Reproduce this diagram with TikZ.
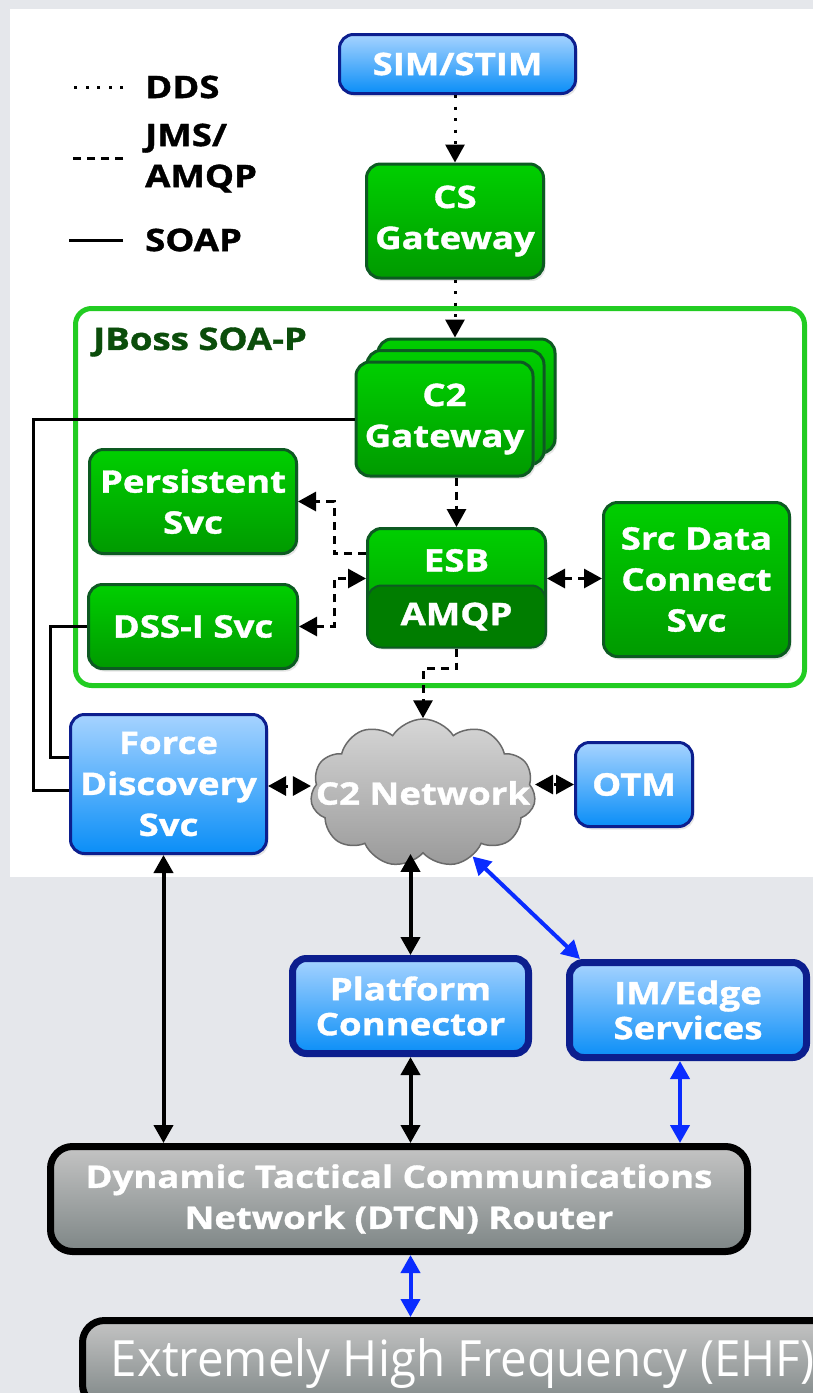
\documentclass[tikz,border=0pt]{standalone}
\usepackage{fontspec}
\setmainfont{Open Sans}[BoldFeatures={FakeStretch=1.18,FakeBold=1.2}]
\newfontfamily\ehffont{Open Sans}[FakeStretch=0.95]
\usetikzlibrary{arrows.meta,shapes.symbols,shadows}
\definecolor{bluetop}{HTML}{A6D3FF}
\definecolor{bluebot}{HTML}{0A8EF7}
\definecolor{navy}{HTML}{0C1E8E}
\definecolor{greentop}{HTML}{00CF00}
\definecolor{greenbot}{HTML}{009A00}
\definecolor{greenline}{HTML}{0D5A22}
\definecolor{amqpgreen}{HTML}{007D00}
\definecolor{soagreen}{HTML}{22CC22}
\definecolor{soatext}{HTML}{0B4D0B}
\definecolor{graytop}{HTML}{C4C4C4}
\definecolor{graybot}{HTML}{7E8686}
\definecolor{cloudtop}{HTML}{D6D6D6}
\definecolor{cloudbot}{HTML}{9A9A9A}
\definecolor{cloudline}{HTML}{6A6A6A}
\definecolor{linkblue}{HTML}{0A2CFF}
\definecolor{backgray}{HTML}{E5E7EB}

\begin{document}
\begin{tikzpicture}[x=1pt, y=-1pt, >={Triangle[length=18pt,width=19pt]},
    every node/.style={font=\bfseries\fontsize{31}{41}\selectfont, text=white, align=center, inner sep=0pt},
    wh/.style 2 args={minimum width=#1pt, minimum height=#2pt},
    shade/.style={drop shadow={opacity=0.2, shadow xshift=2pt, shadow yshift=-3pt}},
    bluebox/.style={draw=navy, line width=3pt, rounded corners=14pt, top color=bluetop, bottom color=bluebot, shade},
    greenbox/.style={draw=greenline, line width=3pt, rounded corners=14pt, top color=greentop, bottom color=greenbot, shade},
    graybox/.style={draw=black, line width=7pt, rounded corners=22pt, top color=graytop, bottom color=graybot, shade},
    legend/.style={text=black, anchor=west, align=left},
    ddsline/.style={line width=3pt, dash pattern=on 3pt off 8.5pt},
    jmsline/.style={line width=3pt, dash pattern=on 8pt off 6pt},
    soapline/.style={line width=3pt},
    blkarr/.style={line width=4pt, <->},
    bluarr/.style={draw=linkblue, line width=4pt, <->}]

  \useasboundingbox (0,0) rectangle (813,1393);
  \clip (0,0) rectangle (813,1393);
  \fill[backgray] (0,0) rectangle (813,1393);
  \fill[white] (10,9) rectangle (813,877);

  \node[legend] (L1) at (145,87) {DDS};
  \node[legend] (L2) at (145,158) {JMS/\\AMQP};
  \node[legend] (L3) at (145,240) {SOAP};
    \draw[ddsline] ([xshift=-22pt]L1.west) -- ++(-54,0);
    \draw[jmsline] ([xshift=-22pt]L2.west) -- ++(-54,0);
    \draw[soapline] ([xshift=-22pt]L3.west) -- ++(-54,0);

  \node[bluebox, wh={236}{59}] (SIM) at (457.5,64) {SIM/STIM};

  \node[greenbox, wh={177}{114}] (CS) at (455,221) {CS\\Gateway};
    \draw[ddsline, ->] (CS.north |- SIM.south) -- (CS.north);

  \node[draw=soagreen, line width=5pt, rounded corners=16pt, wh={729}{377}] (SOA) at (440,497) {};
  \node[text=soatext, anchor=west] (SOAL) at (93,342) {JBoss SOA-P};

  \node[greenbox, wh={177}{114}] (C2G3) at (466.5,396) {};
  \node[greenbox, wh={177}{114}] (C2G2) at (455.5,407.5) {};
  \node[greenbox, wh={177}{114}] (C2G) at (444.5,419) {C2\\Gateway};
    \draw[ddsline, ->] (CS.south) -- (CS.south |- C2G3.north);

  \node[greenbox, wh={207}{104}] (PS) at (193,501.5) {Persistent\\Svc};
  \node[greenbox, wh={209}{84}] (DSS) at (193,626.5) {DSS-I Svc};

  \node[greenbox, wh={178}{118}, text height=43pt, text depth=75pt] (ESB) at (456.5,587.5) {ESB};
  \node[draw=greenline, line width=2pt, fill=amqpgreen, rounded corners=14pt, wh={178}{62}] (AMQP) at (456.5,616.5) {AMQP};

  \node[greenbox, wh={186}{154}] (SRC) at (696.5,579.5) {Src Data\\Connect\\Svc};

    \draw[jmsline, ->] (ESB.north |- C2G.south) -- (ESB.north);
    \draw[jmsline, ->] ([yshift=34pt]ESB.west) -- ++(-32,0) |- (PS.east);
    \draw[jmsline, <->] (DSS.east) -| ([xshift=-32pt,yshift=9pt]ESB.west) -- ([yshift=9pt]ESB.west);
    \draw[jmsline, <->] ([yshift=9pt]ESB.east) -- ([yshift=9pt]ESB.east -| SRC.west);

  \node[bluebox, wh={196}{139}] (FD) at (168.5,784) {Force\\Discovery\\Svc};

  \node[cloud, cloud puffs=11, cloud puff arc=115, aspect=1.5, draw=cloudline, line width=1.5pt,
        top color=cloudtop, bottom color=cloudbot, wh={225}{148}, label={center:C2 Network}] (NET) at (423,793) {};

  \node[bluebox, wh={117}{84}] (OTM) at (634,784.5) {OTM};

    \draw[jmsline, ->] (AMQP.south) -- ++(0,20) -| (NET.north);
    \draw[ddsline, <->] ([yshift=-2pt]FD.east) -- ([yshift=-2pt]FD.east -| NET.west);
    \draw[ddsline, <->] (OTM.west) -- (OTM.west -| NET.east);
    \draw[soapline] (C2G.west) -- ++(-321,0) |- ([yshift=-6pt]FD.west);
    \draw[soapline] (DSS.west) -- ++(-37,0) |- ([yshift=27pt]FD.west);

  \node[bluebox, line width=7pt, wh={236}{95}, font=\bfseries\fontsize{31}{35}\selectfont] (PC) at (410.5,1006) {Platform\\Connector};
  \node[bluebox, line width=7pt, wh={237}{95}, font=\bfseries\fontsize{31}{35}\selectfont] (IM) at (688,1010) {IM/Edge\\Services};

  \node[graybox, wh={697}{105}] (DTCN) at (399,1199) {Dynamic Tactical Communications\\Network (DTCN) Router};

  \node[graybox, anchor=north west, wh={760}{86}, font=\ehffont\fontsize{50}{60}\selectfont] (EHF) at (79,1317) {Extremely High Frequency (EHF)};

    \draw[blkarr] ([xshift=-5pt]FD.south) -- ([xshift=-5pt]FD.south |- DTCN.north);
    \draw[blkarr] (PC.north) -- (PC.north |- NET.south);
    \draw[blkarr] (PC.south) -- (PC.south |- DTCN.north);
    \draw[bluarr] (NET.-52) -- ([xshift=14pt]IM.north west);
    \draw[bluarr] ([xshift=-8pt]IM.south) -- ([xshift=-8pt]IM.south |- DTCN.north);
    \draw[bluarr] (DTCN.south -| PC) -- (PC |- EHF.north);

\end{tikzpicture}
\end{document}
